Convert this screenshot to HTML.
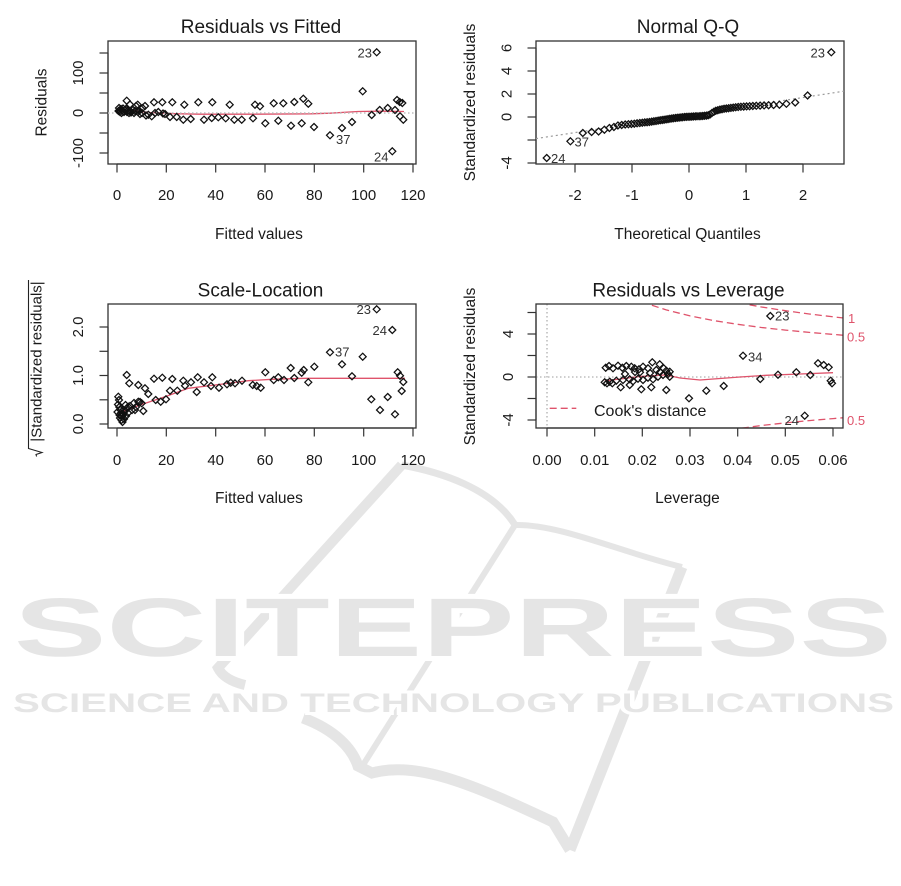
<!DOCTYPE html>
<html><head><meta charset="utf-8"><style>
html,body{margin:0;padding:0;background:#fff;}
svg{display:block;}
text{font-family:"Liberation Sans",Arial,sans-serif;fill:#1a1a1a;}
.t{font-size:19px;text-anchor:middle;}
.ax{font-size:15.5px;text-anchor:middle;}
.tk{font-size:15px;text-anchor:middle;}
.lb{font-size:13px;fill:#333;}
.ck{font-size:13px;fill:#df536b;}
.wm{fill:#e5e5e5;stroke:#fff;paint-order:stroke;font-weight:bold;}
</style></head><body>
<svg width="901" height="886" viewBox="0 0 901 886" xmlns="http://www.w3.org/2000/svg">
<defs>
<path id="p" d="M0,-3.5L3.5,0L0,3.5L-3.5,0Z" fill="none" stroke="#111" stroke-width="1.25"/>
<clipPath id="c4"><rect x="536" y="304" width="307" height="124"/></clipPath>
</defs>

<!-- watermark -->
<g fill="none" stroke="#e5e5e5" stroke-linecap="butt">
<path d="M401.7,465 L218,668 Q224,680 245,685" stroke-width="10"/>
<path d="M401.7,465 C440,472 492,488 515,525" stroke-width="7"/>
<path d="M515,525 C560,524 620,552 682,567" stroke-width="6"/>
<path d="M682,567 L570,850" stroke-width="11"/>
<path d="M515,525 L363,765" stroke-width="6"/>
<path d="M303,718 C335,730 352,748 358,766 L372,773 C420,760 480,788 553,822 L570,850" stroke-width="11"/>
</g>
<text class="wm" x="14" y="656" font-size="83" textLength="878" lengthAdjust="spacingAndGlyphs" stroke-width="10">SCITEPRESS</text>
<text class="wm" x="13" y="712" font-size="26.5" textLength="881" lengthAdjust="spacingAndGlyphs" stroke-width="6">SCIENCE AND TECHNOLOGY PUBLICATIONS</text>

<!-- ============ Panel 1 ============ -->
<text class="t" x="261" y="33">Residuals vs Fitted</text>
<rect x="108" y="41" width="308" height="123" fill="none" stroke="#333" stroke-width="1.3"/>
<g stroke="#333" stroke-width="1.2">
<line x1="117" y1="164" x2="413" y2="164"/>
<line x1="117" y1="164" x2="117" y2="172.5"/><line x1="166.3" y1="164" x2="166.3" y2="172.5"/><line x1="215.7" y1="164" x2="215.7" y2="172.5"/><line x1="265" y1="164" x2="265" y2="172.5"/><line x1="314.3" y1="164" x2="314.3" y2="172.5"/><line x1="363.7" y1="164" x2="363.7" y2="172.5"/><line x1="413" y1="164" x2="413" y2="172.5"/>
<line x1="108" y1="53" x2="108" y2="153"/>
<line x1="99.5" y1="53" x2="108" y2="53"/><line x1="99.5" y1="73" x2="108" y2="73"/><line x1="99.5" y1="93" x2="108" y2="93"/><line x1="99.5" y1="113" x2="108" y2="113"/><line x1="99.5" y1="133" x2="108" y2="133"/><line x1="99.5" y1="153" x2="108" y2="153"/>
</g>
<text class="tk" x="117" y="200">0</text><text class="tk" x="166.3" y="200">20</text><text class="tk" x="215.7" y="200">40</text><text class="tk" x="265" y="200">60</text><text class="tk" x="314.3" y="200">80</text><text class="tk" x="363.7" y="200">100</text><text class="tk" x="413" y="200">120</text>
<text class="tk" transform="translate(83,73) rotate(-90)">100</text>
<text class="tk" transform="translate(83,113) rotate(-90)">0</text>
<text class="tk" transform="translate(83,153) rotate(-90)">-100</text>
<text class="ax" x="259" y="239">Fitted values</text>
<text class="ax" transform="translate(46.5,102.5) rotate(-90)">Residuals</text>
<polyline fill="none" stroke="#df536b" stroke-width="1.3" points="118,110.5 135,111 150,112.5 175,113.7 200,114.2 250,114.2 311,113.8 330,113.2 358,111.5 380,111.2 404,111.5"/>
<line x1="108" y1="113" x2="416" y2="113" stroke="#bebebe" stroke-width="1.6" stroke-dasharray="1.5,2.5"/>
<g>
<use href="#p" x="118.5" y="111"/><use href="#p" x="119" y="108"/><use href="#p" x="119.5" y="110.5"/><use href="#p" x="120" y="112"/><use href="#p" x="121" y="109"/><use href="#p" x="121.5" y="113"/><use href="#p" x="122" y="110.5"/><use href="#p" x="123" y="108.5"/><use href="#p" x="124" y="112"/><use href="#p" x="125" y="110"/><use href="#p" x="126" y="109"/><use href="#p" x="126.7" y="100.7"/><use href="#p" x="127" y="112"/><use href="#p" x="128" y="110.5"/><use href="#p" x="129" y="113"/><use href="#p" x="130" y="111"/><use href="#p" x="130" y="104.5"/><use href="#p" x="131" y="112.5"/><use href="#p" x="133" y="110"/><use href="#p" x="134" y="113"/><use href="#p" x="135" y="111"/><use href="#p" x="136" y="106"/><use href="#p" x="137.7" y="104.7"/><use href="#p" x="138" y="112"/><use href="#p" x="139" y="110.5"/><use href="#p" x="140" y="114"/><use href="#p" x="142" y="113"/><use href="#p" x="142.5" y="108"/><use href="#p" x="145" y="106"/><use href="#p" x="146" y="115.5"/><use href="#p" x="148.3" y="114.7"/><use href="#p" x="151.7" y="116.3"/><use href="#p" x="154" y="102.3"/><use href="#p" x="155" y="113"/><use href="#p" x="158.3" y="112"/><use href="#p" x="162.3" y="102.3"/><use href="#p" x="163" y="113.5"/><use href="#p" x="165" y="114"/><use href="#p" x="170" y="117"/><use href="#p" x="172.3" y="102.3"/><use href="#p" x="176.7" y="117"/><use href="#p" x="183.3" y="119.7"/><use href="#p" x="184.3" y="104.7"/><use href="#p" x="190.7" y="119"/><use href="#p" x="198.3" y="102.3"/><use href="#p" x="204" y="119.7"/><use href="#p" x="211.7" y="118"/><use href="#p" x="212.3" y="102.3"/><use href="#p" x="218.3" y="117.3"/><use href="#p" x="225.7" y="118.3"/><use href="#p" x="229.7" y="104.7"/><use href="#p" x="234.3" y="119.7"/><use href="#p" x="241.7" y="119.7"/><use href="#p" x="253" y="118.3"/><use href="#p" x="255" y="104.7"/><use href="#p" x="260" y="106.3"/><use href="#p" x="265.3" y="123.3"/><use href="#p" x="273.7" y="103.3"/><use href="#p" x="278.3" y="120.7"/><use href="#p" x="283.3" y="103.3"/><use href="#p" x="291" y="125.7"/><use href="#p" x="294.3" y="102"/><use href="#p" x="301.7" y="123.3"/><use href="#p" x="303.3" y="98.7"/><use href="#p" x="308.3" y="103.7"/><use href="#p" x="314" y="127"/><use href="#p" x="330" y="135.3"/><use href="#p" x="342" y="128"/><use href="#p" x="352" y="122"/><use href="#p" x="362.7" y="91.3"/><use href="#p" x="371.7" y="115"/><use href="#p" x="376.7" y="52.3"/><use href="#p" x="379.7" y="110"/><use href="#p" x="387.7" y="108"/><use href="#p" x="392.3" y="151.3"/><use href="#p" x="395" y="110"/><use href="#p" x="397" y="100"/><use href="#p" x="399.7" y="102"/><use href="#p" x="402.3" y="103"/><use href="#p" x="400" y="116.3"/><use href="#p" x="403.3" y="119.7"/>
</g>
<text class="lb" x="357.5" y="57.3">23</text>
<text class="lb" x="336" y="144">37</text>
<text class="lb" x="374" y="161.3">24</text>

<!-- ============ Panel 2 ============ -->
<text class="t" x="688" y="33">Normal Q-Q</text>
<rect x="536" y="41" width="308" height="123" fill="none" stroke="#333" stroke-width="1.3"/>
<g stroke="#333" stroke-width="1.2">
<line x1="575" y1="164" x2="803" y2="164"/>
<line x1="575" y1="164" x2="575" y2="172.5"/><line x1="632" y1="164" x2="632" y2="172.5"/><line x1="689" y1="164" x2="689" y2="172.5"/><line x1="746" y1="164" x2="746" y2="172.5"/><line x1="803" y1="164" x2="803" y2="172.5"/>
<line x1="536" y1="48" x2="536" y2="163"/>
<line x1="527.5" y1="48" x2="536" y2="48"/><line x1="527.5" y1="71" x2="536" y2="71"/><line x1="527.5" y1="94" x2="536" y2="94"/><line x1="527.5" y1="117" x2="536" y2="117"/><line x1="527.5" y1="140" x2="536" y2="140"/><line x1="527.5" y1="163" x2="536" y2="163"/>
</g>
<text class="tk" x="575" y="200">-2</text><text class="tk" x="632" y="200">-1</text><text class="tk" x="689" y="200">0</text><text class="tk" x="746" y="200">1</text><text class="tk" x="803" y="200">2</text>
<text class="tk" transform="translate(511.5,48) rotate(-90)">6</text>
<text class="tk" transform="translate(511.5,71) rotate(-90)">4</text>
<text class="tk" transform="translate(511.5,94) rotate(-90)">2</text>
<text class="tk" transform="translate(511.5,117) rotate(-90)">0</text>
<text class="tk" transform="translate(511.5,163) rotate(-90)">-4</text>
<text class="ax" x="687.5" y="239">Theoretical Quantiles</text>
<text class="ax" transform="translate(475,102.5) rotate(-90)">Standardized residuals</text>
<line x1="536" y1="138.6" x2="844" y2="91.2" stroke="#999" stroke-width="1.2" stroke-dasharray="2,3"/>
<g>
<use href="#p" x="546.7" y="158"/><use href="#p" x="570.4" y="141.3"/><use href="#p" x="582.8" y="133"/><use href="#p" x="591.6" y="132"/><use href="#p" x="598.6" y="131.5"/><use href="#p" x="604.4" y="129.7"/><use href="#p" x="609.4" y="128"/><use href="#p" x="613.9" y="127"/><use href="#p" x="617.9" y="125.5"/><use href="#p" x="621.7" y="125"/><use href="#p" x="625.2" y="124.5"/><use href="#p" x="628.4" y="124.2"/><use href="#p" x="631.4" y="124"/><use href="#p" x="634.3" y="123.7"/><use href="#p" x="637.1" y="123.3"/><use href="#p" x="639.8" y="123"/><use href="#p" x="642.3" y="122.7"/><use href="#p" x="644.8" y="122.4"/><use href="#p" x="647.1" y="122.2"/><use href="#p" x="649.4" y="122"/><use href="#p" x="651.7" y="121.6"/><use href="#p" x="653.9" y="121.3"/><use href="#p" x="656" y="121"/><use href="#p" x="658.1" y="120.6"/><use href="#p" x="660.2" y="120.3"/><use href="#p" x="662.2" y="120"/><use href="#p" x="664.1" y="119.7"/><use href="#p" x="666.1" y="119.4"/><use href="#p" x="668" y="119.1"/><use href="#p" x="669.9" y="118.8"/><use href="#p" x="671.8" y="118.5"/><use href="#p" x="673.6" y="118.3"/><use href="#p" x="675.5" y="118"/><use href="#p" x="677.3" y="117.8"/><use href="#p" x="679.1" y="117.6"/><use href="#p" x="681" y="117.4"/><use href="#p" x="682.7" y="117.2"/><use href="#p" x="684.6" y="117"/><use href="#p" x="686.3" y="116.9"/><use href="#p" x="688.1" y="116.8"/><use href="#p" x="689.9" y="116.7"/><use href="#p" x="691.7" y="116.6"/><use href="#p" x="693.4" y="116.5"/><use href="#p" x="695.3" y="116.4"/><use href="#p" x="697" y="116.3"/><use href="#p" x="699.1" y="116.2"/><use href="#p" x="700.9" y="116.1"/><use href="#p" x="702.7" y="116"/><use href="#p" x="704.5" y="115.8"/><use href="#p" x="706.4" y="115.6"/><use href="#p" x="708.2" y="115.2"/><use href="#p" x="710" y="114.5"/><use href="#p" x="711.9" y="113"/><use href="#p" x="713.9" y="111.8"/><use href="#p" x="715.8" y="110.8"/><use href="#p" x="717.8" y="110.2"/><use href="#p" x="719.9" y="109.6"/><use href="#p" x="722" y="109.2"/><use href="#p" x="724.1" y="108.8"/><use href="#p" x="726.3" y="108.5"/><use href="#p" x="728.6" y="108.2"/><use href="#p" x="730.9" y="107.9"/><use href="#p" x="733.2" y="107.6"/><use href="#p" x="735.7" y="107.3"/><use href="#p" x="738.2" y="107"/><use href="#p" x="740.9" y="106.8"/><use href="#p" x="743.7" y="106.6"/><use href="#p" x="746.6" y="106.4"/><use href="#p" x="749.6" y="106.2"/><use href="#p" x="752.8" y="106"/><use href="#p" x="756.3" y="105.8"/><use href="#p" x="760.1" y="105.6"/><use href="#p" x="764.1" y="105.4"/><use href="#p" x="768.6" y="105.2"/><use href="#p" x="773.6" y="105"/><use href="#p" x="779.4" y="104.7"/><use href="#p" x="786.4" y="103.8"/><use href="#p" x="795.2" y="102.5"/><use href="#p" x="807.6" y="95.5"/><use href="#p" x="831.3" y="52.3"/>
</g>
<text class="lb" x="810.5" y="57.3">23</text>
<text class="lb" x="574.5" y="146.3">37</text>
<text class="lb" x="551" y="163">24</text>

<!-- ============ Panel 3 ============ -->
<text class="t" x="260.5" y="296.5">Scale-Location</text>
<rect x="108" y="304" width="308" height="124" fill="none" stroke="#333" stroke-width="1.3"/>
<g stroke="#333" stroke-width="1.2">
<line x1="117" y1="428" x2="413" y2="428"/>
<line x1="117" y1="428" x2="117" y2="436.5"/><line x1="166.3" y1="428" x2="166.3" y2="436.5"/><line x1="215.7" y1="428" x2="215.7" y2="436.5"/><line x1="265" y1="428" x2="265" y2="436.5"/><line x1="314.3" y1="428" x2="314.3" y2="436.5"/><line x1="363.7" y1="428" x2="363.7" y2="436.5"/><line x1="413" y1="428" x2="413" y2="436.5"/>
<line x1="108" y1="327" x2="108" y2="424"/>
<line x1="99.5" y1="327" x2="108" y2="327"/><line x1="99.5" y1="351.3" x2="108" y2="351.3"/><line x1="99.5" y1="375.5" x2="108" y2="375.5"/><line x1="99.5" y1="399.8" x2="108" y2="399.8"/><line x1="99.5" y1="424" x2="108" y2="424"/>
</g>
<text class="tk" x="117" y="465">0</text><text class="tk" x="166.3" y="465">20</text><text class="tk" x="215.7" y="465">40</text><text class="tk" x="265" y="465">60</text><text class="tk" x="314.3" y="465">80</text><text class="tk" x="363.7" y="465">100</text><text class="tk" x="413" y="465">120</text>
<text class="tk" transform="translate(83,327) rotate(-90)">2.0</text>
<text class="tk" transform="translate(83,375.5) rotate(-90)">1.0</text>
<text class="tk" transform="translate(83,424) rotate(-90)">0.0</text>
<text class="ax" x="259" y="503">Fitted values</text>
<text class="ax" style="font-size:15px" transform="translate(41.5,361.5) rotate(-90)">|Standardized residuals|</text>
<polyline fill="none" stroke="#222" stroke-width="1.1" points="28.5,280 28.5,448.5 42,452.5 36,454.5 36.6,456.5"/>
<polyline fill="none" stroke="#df536b" stroke-width="1.3" points="121,412.3 140,405 165,396.7 188.3,388.3 215,385 248.3,380.7 271.7,379.3 305,378.3 405,378.3"/>
<g>
<use href="#p" x="117.5" y="412"/><use href="#p" x="118" y="404.5"/><use href="#p" x="118.3" y="396.7"/><use href="#p" x="119" y="400"/><use href="#p" x="119.3" y="407"/><use href="#p" x="119.5" y="415"/><use href="#p" x="120" y="418"/><use href="#p" x="120.5" y="410"/><use href="#p" x="121" y="413"/><use href="#p" x="121.5" y="420"/><use href="#p" x="122" y="416"/><use href="#p" x="122.5" y="422"/><use href="#p" x="123" y="414"/><use href="#p" x="124" y="419"/><use href="#p" x="125" y="411"/><use href="#p" x="125.5" y="405"/><use href="#p" x="126" y="416"/><use href="#p" x="126.7" y="375"/><use href="#p" x="127" y="408"/><use href="#p" x="128" y="413"/><use href="#p" x="128.3" y="406.7"/><use href="#p" x="129.3" y="383.3"/><use href="#p" x="130" y="406"/><use href="#p" x="132" y="410"/><use href="#p" x="134" y="403"/><use href="#p" x="135" y="410"/><use href="#p" x="136" y="407"/><use href="#p" x="138.3" y="385"/><use href="#p" x="138.3" y="401.7"/><use href="#p" x="140" y="402"/><use href="#p" x="141.7" y="403.3"/><use href="#p" x="143.3" y="411"/><use href="#p" x="145" y="388.3"/><use href="#p" x="148.3" y="394"/><use href="#p" x="154" y="378.7"/><use href="#p" x="155.7" y="400"/><use href="#p" x="160.7" y="401.7"/><use href="#p" x="162.3" y="377.7"/><use href="#p" x="166" y="399.3"/><use href="#p" x="170" y="390.7"/><use href="#p" x="172.3" y="379"/><use href="#p" x="177.3" y="390.7"/><use href="#p" x="183.3" y="380.7"/><use href="#p" x="185" y="385.7"/><use href="#p" x="191" y="382.3"/><use href="#p" x="196.7" y="392"/><use href="#p" x="197.7" y="377.3"/><use href="#p" x="204" y="382.3"/><use href="#p" x="211" y="386"/><use href="#p" x="212.3" y="377.3"/><use href="#p" x="219" y="387.7"/><use href="#p" x="227" y="384.3"/><use href="#p" x="230.7" y="382.7"/><use href="#p" x="235" y="383.3"/><use href="#p" x="242" y="380.7"/><use href="#p" x="252.7" y="385"/><use href="#p" x="256.7" y="386"/><use href="#p" x="260.7" y="387.7"/><use href="#p" x="265.3" y="372.3"/><use href="#p" x="273.7" y="380"/><use href="#p" x="278.3" y="377.3"/><use href="#p" x="284" y="380"/><use href="#p" x="290.7" y="368"/><use href="#p" x="294.3" y="378"/><use href="#p" x="301.7" y="372.7"/><use href="#p" x="303.7" y="370"/><use href="#p" x="308.3" y="382.3"/><use href="#p" x="314.3" y="366.7"/><use href="#p" x="330" y="352.3"/><use href="#p" x="342" y="364.3"/><use href="#p" x="352" y="376.3"/><use href="#p" x="362.7" y="356.7"/><use href="#p" x="371.3" y="399.3"/><use href="#p" x="376.7" y="309.3"/><use href="#p" x="380" y="410"/><use href="#p" x="387.7" y="397"/><use href="#p" x="392.3" y="330"/><use href="#p" x="395" y="414.3"/><use href="#p" x="397.7" y="372.3"/><use href="#p" x="400" y="375.7"/><use href="#p" x="401.7" y="391"/><use href="#p" x="403.3" y="382"/>
</g>
<text class="lb" x="356.5" y="314">23</text>
<text class="lb" x="372.5" y="335">24</text>
<text class="lb" x="335" y="356.7">37</text>

<!-- ============ Panel 4 ============ -->
<text class="t" x="688.5" y="296.5">Residuals vs Leverage</text>
<g stroke="#333" stroke-width="1.2">
<line x1="547" y1="428" x2="833" y2="428"/>
<line x1="547" y1="428" x2="547" y2="436.5"/><line x1="594.7" y1="428" x2="594.7" y2="436.5"/><line x1="642.3" y1="428" x2="642.3" y2="436.5"/><line x1="690" y1="428" x2="690" y2="436.5"/><line x1="737.7" y1="428" x2="737.7" y2="436.5"/><line x1="785.3" y1="428" x2="785.3" y2="436.5"/><line x1="833" y1="428" x2="833" y2="436.5"/>
<line x1="536" y1="312.5" x2="536" y2="420"/>
<line x1="527.5" y1="312.5" x2="536" y2="312.5"/><line x1="527.5" y1="334" x2="536" y2="334"/><line x1="527.5" y1="355.5" x2="536" y2="355.5"/><line x1="527.5" y1="377" x2="536" y2="377"/><line x1="527.5" y1="398.5" x2="536" y2="398.5"/><line x1="527.5" y1="420" x2="536" y2="420"/>
</g>
<text class="tk" x="547" y="465">0.00</text><text class="tk" x="594.7" y="465">0.01</text><text class="tk" x="642.3" y="465">0.02</text><text class="tk" x="690" y="465">0.03</text><text class="tk" x="737.7" y="465">0.04</text><text class="tk" x="785.3" y="465">0.05</text><text class="tk" x="833" y="465">0.06</text>
<text class="tk" transform="translate(513,334) rotate(-90)">4</text>
<text class="tk" transform="translate(513,377) rotate(-90)">0</text>
<text class="tk" transform="translate(513,420) rotate(-90)">-4</text>
<text class="ax" x="687.5" y="503">Leverage</text>
<text class="ax" transform="translate(475,366.5) rotate(-90)">Standardized residuals</text>
<line x1="547" y1="304" x2="547" y2="428" stroke="#bebebe" stroke-width="1.6" stroke-dasharray="1.5,2.5"/>
<line x1="536" y1="377" x2="843" y2="377" stroke="#bebebe" stroke-width="1.6" stroke-dasharray="1.5,2.5"/>
<g clip-path="url(#c4)" fill="none" stroke="#df536b" stroke-width="1.3" stroke-dasharray="7,4">
<polyline points="651.9,305.3 666.2,309.9 690,315.9 713.8,320.6 737.7,324.3 761.5,327.5 785.4,330.1 809.2,332.4 833,334.4 842.6,335.2"/>
<polyline points="749.6,304.8 761.5,307 785.4,310.7 809.2,314 833,316.8 842.6,317.9"/>
<polyline points="731,430 737.7,428.7 761.5,425.5 785.4,422.9 809.2,420.6 833,418.6 842.6,417.8"/>
</g>
<polyline fill="none" stroke="#df536b" stroke-width="1.3" points="604.7,381 620,379 640,376.5 655,375.5 666,375 680,378 700,380 720,378.5 740,377 766,375.3 800,374 833,372.7"/>
<rect x="536" y="304" width="307" height="124" fill="none" stroke="#333" stroke-width="1.3"/>
<g>
<use href="#p" x="605.7" y="367.7"/><use href="#p" x="609" y="366"/><use href="#p" x="613" y="368.3"/><use href="#p" x="618" y="365.7"/><use href="#p" x="622.3" y="367.7"/><use href="#p" x="626.3" y="366"/><use href="#p" x="631.3" y="366.7"/><use href="#p" x="634.7" y="368.3"/><use href="#p" x="639" y="369.3"/><use href="#p" x="643" y="366.7"/><use href="#p" x="648" y="368.3"/><use href="#p" x="652.3" y="362.3"/><use href="#p" x="656.3" y="370"/><use href="#p" x="659.7" y="364.3"/><use href="#p" x="663.7" y="368.3"/><use href="#p" x="666.3" y="370.7"/><use href="#p" x="669.7" y="371.7"/>
<use href="#p" x="604.7" y="382.3"/><use href="#p" x="607" y="383.3"/><use href="#p" x="609.7" y="381.7"/><use href="#p" x="612.3" y="383.3"/><use href="#p" x="616.3" y="380.7"/><use href="#p" x="623" y="380"/><use href="#p" x="629.7" y="379.3"/><use href="#p" x="633" y="381.3"/><use href="#p" x="638" y="378.7"/><use href="#p" x="643" y="380"/><use href="#p" x="648" y="377.7"/><use href="#p" x="653" y="379.3"/><use href="#p" x="658" y="376.7"/><use href="#p" x="663" y="375"/><use href="#p" x="668" y="374"/><use href="#p" x="669.7" y="376.7"/>
<use href="#p" x="620.7" y="387.3"/><use href="#p" x="629.7" y="385"/><use href="#p" x="641.3" y="389.3"/><use href="#p" x="651.3" y="387.3"/><use href="#p" x="666.3" y="390"/><use href="#p" x="640" y="372.3"/><use href="#p" x="650" y="373"/><use href="#p" x="660" y="372"/><use href="#p" x="625" y="374"/><use href="#p" x="635" y="372"/>
<use href="#p" x="689" y="398.3"/><use href="#p" x="706.3" y="390.7"/><use href="#p" x="723.7" y="386"/><use href="#p" x="743" y="355.7"/><use href="#p" x="760.3" y="379"/><use href="#p" x="770.3" y="316"/><use href="#p" x="778" y="374.7"/><use href="#p" x="796.3" y="372.3"/><use href="#p" x="804.7" y="415.7"/><use href="#p" x="810.3" y="375"/><use href="#p" x="818" y="363.3"/><use href="#p" x="823.7" y="365"/><use href="#p" x="828.7" y="367.3"/><use href="#p" x="830.7" y="380.7"/><use href="#p" x="832" y="383.3"/>
</g>
<text class="lb" x="775" y="320.7">23</text>
<text class="lb" x="748" y="361.7">34</text>
<text class="lb" x="784.5" y="425">24</text>
<line x1="549.7" y1="408.3" x2="576.3" y2="408.3" stroke="#df536b" stroke-width="1.3" stroke-dasharray="7,4"/>
<text x="594" y="416" style="font-size:16px">Cook's distance</text>
<text class="ck" x="848" y="323">1</text>
<text class="ck" x="847" y="341.5">0.5</text>
<text class="ck" x="847" y="425">0.5</text>
</svg>
</body></html>
